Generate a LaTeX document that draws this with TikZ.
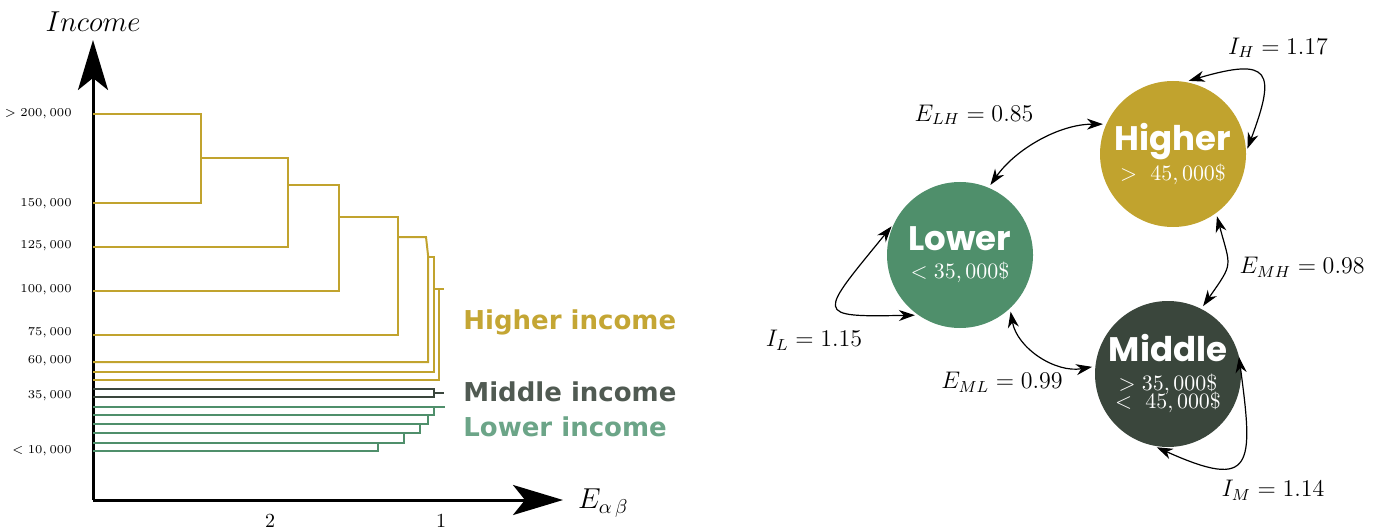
\documentclass[tikz,border=0pt]{standalone}
\usepackage{fontspec}
\newfontfamily\popfont{Poppins}
\newfontfamily\dvfont{DejaVu Sans}
\usetikzlibrary{arrows.meta}

\definecolor{higherc}{RGB}{193,163,46}
\definecolor{middlec}{RGB}{58,70,60}
\definecolor{lowerc}{RGB}{79,143,107}
\definecolor{higherlab}{RGB}{196,166,52}
\definecolor{middlelab}{RGB}{80,90,82}
\definecolor{lowerlab}{RGB}{108,165,136}

\newcommand\grptitle[1]{{\fontsize{17}{17}\selectfont\popfont\bfseries #1}}

\begin{document}
\begin{tikzpicture}[x=0.5pt,y=-0.5pt]

    \useasboundingbox (0,0) rectangle (1379,529);

    % let's define some key values
    \def\xaxis{93}
    \def\yaxis{500}
    \def\ytop{40}
    \def\xtip{563}
    \def\xticklab{72}
    \coordinate (origin) at (\xaxis,\yaxis);
    \coordinate (ytip) at (\xaxis,\ytop);
    \coordinate (xtip) at (\xtip,\yaxis);

    % Styles
    \tikzstyle{bigaxis}=[line width=1.5pt, -{Stealth[length=25pt,width=15pt,inset=6pt]}]
    \tikzstyle{dendroH}=[line width=1pt, higherc]
    \tikzstyle{dendroM}=[line width=1pt, middlec]
    \tikzstyle{dendroL}=[line width=1pt, lowerc]
    \tikzstyle{ticklab}=[anchor=east, font=\fontsize{6.4}{7}\selectfont, inner sep=0pt]
    \tikzstyle{legend}=[anchor=west, font=\fontsize{13}{15}\selectfont\dvfont\bfseries, inner sep=0pt]
    \tikzstyle{grp}=[circle, minimum size=73pt, inner sep=0pt, text=white, align=center,
        font=\fontsize{11}{12}\selectfont]
    \tikzstyle{link}=[line width=0.6pt, shorten <=1.5pt, shorten >=1.5pt,
        {Stealth[length=8pt,width=5.5pt,inset=2.5pt]}-{Stealth[length=8pt,width=5.5pt,inset=2.5pt]}]
    \tikzstyle{linklab}=[font=\large, inner sep=0pt]

    % axes
    \draw[bigaxis] (origin) -- (ytip);
    \draw[bigaxis] (origin) -- (xtip);
    \node (ylab) at (\xaxis,22) {\Large $Income$};
    \node[anchor=west] (xlab) at (571,503) {\Large $E_{\alpha\,\beta}$};

    % income ticks
    \foreach \y/\lab [count=\i] in {114/{>200,000}, 204/{150,000}, 246/{125,000},
        290/{100,000}, 333/{75,000}, 361/{60,000}, 396/{35,000}, 451/{<10,000}}
        \node[ticklab] (ytick\i) at (\xticklab,\y) {$\lab$};
    \node[inner sep=0pt] (xtick2) at (270,521) {$2$};
    \node[inner sep=0pt] (xtick1) at (441,521) {$1$};

    % higher income tree
    \draw[dendroH] (\xaxis,114) -| (201,203) -- (\xaxis,203);
    \draw[dendroH] (201,158) -| (288,247) -- (\xaxis,247);
    \draw[dendroH] (288,185) -| (339,291) -- (\xaxis,291);
    \draw[dendroH] (339,217) -| (398,335) -- (\xaxis,335);
    \draw[dendroH] (398,237) -- (426,237) -- (428,255) -- (428,362) -- (\xaxis,362);
    \draw[dendroH] (428,257) -| (434,372) -- (\xaxis,372);
    \draw[dendroH] (434,289) -- (444,289);
    \draw[dendroH] (439,289) -- (439,380) -- (\xaxis,380);

    % middle income tree
    \draw[dendroM] (\xaxis,389) -| (434,397) -- (\xaxis,397);
    \draw[dendroM] (434,393) -- (444,393);

    % lower income tree
    \foreach \y/\x/\yn in {451/378/443, 443/404/433, 433/420/424, 424/428/415, 415/434/407}
        \draw[dendroL] (\xaxis,\y) -| (\x,\yn);
    \draw[dendroL] (\xaxis,407) -- (445,407);

    % legend
    \node[legend, higherlab] (leghigh) at (463,322) {Higher income};
    \node[legend, middlelab] (legmid) at (463,392) {Middle income};
    \node[legend, lowerlab] (leglow) at (463,427) {Lower income};

    % income groups
    \node[grp, fill=higherc] (higher) at (1173,154) {\grptitle{Higher}\\[1pt] $>\ 45,000\$$};
    \node[grp, fill=lowerc] (lower) at (960,255) {\grptitle{Lower}\\[2pt] $<35,000\$$};
    \node[grp, fill=middlec] (middle) at (1168,374) {\grptitle{Middle}\\[2.5pt] $>35,000\$$\\[-3pt] $<\ 45,000\$$};

    % links between groups
    \draw[link] (lower.67) to[out=55, in=180, looseness=0.9] (higher.156);
    \draw[link] (higher.-54) to[out=-75, in=55, looseness=1.5] (middle.63);
    \draw[link] (lower.-47) to[out=-80, in=190] (middle.174);

    % self links
    \draw[link] (lower.155) .. controls +(-75,92) and +(-105,2) .. (lower.235);
    \draw[link] (higher.80) .. controls +(85,-25) and +(30,-80) .. (higher.2);
    \draw[link] (middle.-101) .. controls +(100,45) and +(15,112) .. (middle.16);

    % link labels
    \node[linklab] (elh) at (974,115) {$E_{LH}=0.85$};
    \node[linklab] (emh) at (1302,267) {$E_{MH}=0.98$};
    \node[linklab] (eml) at (1002,382) {$E_{ML}=0.99$};
    \node[linklab] (il) at (814,340) {$I_{L}=1.15$};
    \node[linklab] (ih) at (1278,48) {$I_{H}=1.17$};
    \node[linklab] (im) at (1273,490) {$I_{M}=1.14$};

\end{tikzpicture}
\end{document}
